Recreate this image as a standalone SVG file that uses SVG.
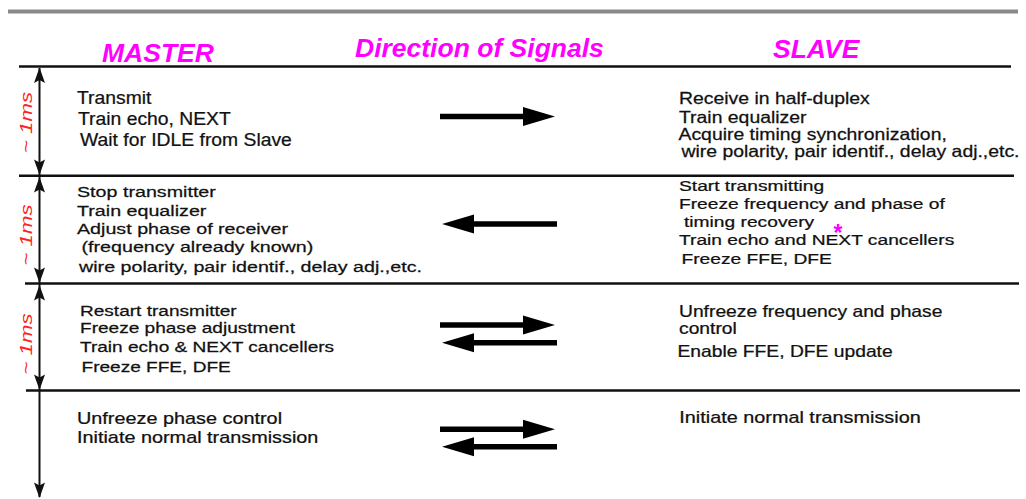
<svg xmlns="http://www.w3.org/2000/svg" xmlns:xlink="http://www.w3.org/1999/xlink" width="1026" height="499" viewBox="0 0 1026 499">
  <style>
    .hdr { font-family: "Liberation Sans", Arial, sans-serif; font-weight: bold; font-style: italic; font-size: 26.5px; fill: #ff00ff; }
    .ms { font-family: "Liberation Sans", Arial, sans-serif; font-style: italic; font-size: 17px; fill: #ff2222; }
    .t { font-family: "Liberation Sans", Arial, sans-serif; fill: #111; stroke: #111; stroke-width: 0.25; }
    .f185 { font-size: 18.5px; }
    .f163 { font-size: 16.3px; }
    .f155 { font-size: 15.5px; }
    .f158 { font-size: 15.8px; }
    .f16 { font-size: 16px; }
    .rule { stroke: #111; stroke-width: 2.5; fill: none; }
    .axis { stroke: #111; stroke-width: 2; fill: none; }
    .star { font-family: "Liberation Sans", Arial, sans-serif; font-weight: bold; font-size: 23px; fill: #ff00ff; }
  </style>
  <defs>
    <!-- small head for the time axis, tip at origin, pointing down -->
    <path id="vhead" d="M0,0 L-5.5,-15.5 L0,-12.5 L5.5,-15.5 Z" fill="#111"/>
    <!-- thick signal arrow, tip at origin, pointing right -->
    <path id="sig" d="M-115,-2.8 L-32,-2.8 L-32,-9.5 L0,0 L-32,9.5 L-32,2.8 L-115,2.8 Z" fill="#000"/>
  </defs>

  <rect x="8" y="9.5" width="1010" height="4" fill="#8a8a8a"/>

  <g id="headers">
    <text class="hdr" x="102" y="61.5">MASTER</text>
    <text class="hdr" x="355" y="57.3">Direction of Signals</text>
    <text class="hdr" x="773" y="58.3">SLAVE</text>
  </g>

  <g id="rules">
    <line class="rule" x1="19" y1="66.5" x2="1011" y2="66.5"/>
    <line class="rule" x1="19" y1="175.8" x2="1014" y2="175.8"/>
    <line class="rule" x1="25" y1="283.5" x2="1019" y2="283.5"/>
    <line class="rule" x1="26" y1="390.5" x2="1020" y2="390.5"/>
  </g>

  <g id="time-axis">
    <line class="axis" x1="39.5" y1="68" x2="39.5" y2="497"/>
    <use xlink:href="#vhead" transform="translate(39.5,67.5) rotate(180)"/>
    <use xlink:href="#vhead" transform="translate(39.5,175)"/>
    <use xlink:href="#vhead" transform="translate(39.5,177) rotate(180)"/>
    <use xlink:href="#vhead" transform="translate(39.5,283)"/>
    <use xlink:href="#vhead" transform="translate(39.5,285) rotate(180)"/>
    <use xlink:href="#vhead" transform="translate(39.5,390)"/>
    <use xlink:href="#vhead" transform="translate(39.5,498)"/>
    <text class="ms" text-anchor="middle" textLength="61" lengthAdjust="spacingAndGlyphs" transform="translate(32,122.5) rotate(-90)">~ 1ms</text>
    <text class="ms" text-anchor="middle" textLength="61" lengthAdjust="spacingAndGlyphs" transform="translate(32,235) rotate(-90)">~ 1ms</text>
    <text class="ms" text-anchor="middle" textLength="61" lengthAdjust="spacingAndGlyphs" transform="translate(32,344) rotate(-90)">~ 1ms</text>
  </g>

  <!-- phase 1 -->
  <g id="phase1-master">
    <text class="t f185" transform="translate(77,104) scale(1.045,1)">Transmit</text>
    <text class="t f185" transform="translate(78,125) scale(1.045,1)">Train echo, NEXT</text>
    <text class="t f185" transform="translate(80,146) scale(1.045,1)">Wait for IDLE from Slave</text>
  </g>
  <g id="phase1-slave">
    <text class="t f163" transform="translate(679,104) scale(1.19,1)">Receive in half-duplex</text>
    <text class="t f163" transform="translate(679,122.5) scale(1.19,1)">Train equalizer</text>
    <text class="t f163" transform="translate(678.5,139.5) scale(1.19,1)">Acquire timing synchronization,</text>
    <text class="t f163" transform="translate(681.5,157) scale(1.19,1)">wire polarity, pair identif., delay adj.,etc.</text>
  </g>

  <!-- phase 2 -->
  <g id="phase2-master">
    <text class="t f155" transform="translate(77,197.3) scale(1.27,1)">Stop transmitter</text>
    <text class="t f155" transform="translate(77,215.7) scale(1.27,1)">Train equalizer</text>
    <text class="t f155" transform="translate(77,234.3) scale(1.27,1)">Adjust phase of receiver</text>
    <text class="t f155" transform="translate(81.5,252) scale(1.27,1)">(frequency already known)</text>
    <text class="t f155" transform="translate(79,271.7) scale(1.27,1)">wire polarity, pair identif., delay adj.,etc.</text>
  </g>
  <g id="phase2-slave">
    <text class="t f155" transform="translate(679,191) scale(1.24,1)">Start transmitting</text>
    <text class="t f155" transform="translate(679,209.3) scale(1.24,1)">Freeze frequency and phase of</text>
    <text class="t f155" transform="translate(684,226.7) scale(1.24,1)">timing recovery</text>
    <text class="t f155" transform="translate(679,245) scale(1.24,1)">Train echo and NEXT cancellers</text>
    <text class="t f155" transform="translate(681.5,264) scale(1.24,1)">Freeze FFE, DFE</text>
    <text class="star" text-anchor="middle" x="838" y="241">*</text>
  </g>

  <!-- phase 3 -->
  <g id="phase3-master">
    <text class="t f155" transform="translate(80,316) scale(1.23,1)">Restart transmitter</text>
    <text class="t f155" transform="translate(80,333.3) scale(1.23,1)">Freeze phase adjustment</text>
    <text class="t f155" transform="translate(80,352.3) scale(1.23,1)">Train echo &amp; NEXT cancellers</text>
    <text class="t f155" transform="translate(81.5,372.3) scale(1.23,1)">Freeze FFE, DFE</text>
  </g>
  <g id="phase3-slave">
    <text class="t f158" transform="translate(679,317.3) scale(1.22,1)">Unfreeze frequency and phase</text>
    <text class="t f158" transform="translate(679,334.3) scale(1.22,1)">control</text>
    <text class="t f158" transform="translate(677.5,356.7) scale(1.22,1)">Enable FFE, DFE update</text>
  </g>

  <!-- phase 4 -->
  <g id="phase4-master">
    <text class="t f16" transform="translate(77,424) scale(1.24,1)">Unfreeze phase control</text>
    <text class="t f16" transform="translate(77,442.7) scale(1.24,1)">Initiate normal transmission</text>
  </g>
  <g id="phase4-slave">
    <text class="t f16" transform="translate(679.3,423.3) scale(1.24,1)">Initiate normal transmission</text>
  </g>

  <g id="connectors">
    <use xlink:href="#sig" transform="translate(555,116.5)"/>
    <use xlink:href="#sig" transform="translate(442,224) scale(-1,1)"/>
    <use xlink:href="#sig" transform="translate(555,325)"/>
    <use xlink:href="#sig" transform="translate(442,342.7) scale(-1,1)"/>
    <use xlink:href="#sig" transform="translate(555,429.3)"/>
    <use xlink:href="#sig" transform="translate(442,446.7) scale(-1,1)"/>
  </g>
</svg>
